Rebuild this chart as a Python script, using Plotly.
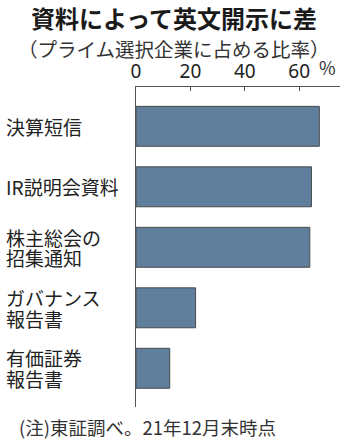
import plotly.graph_objects as go

categories = ["決算短信", "IR説明会資料", "株主総会の\n招集通知", "ガバナンス\n報告書", "有価証券\n報告書"]
values = [67.4, 64.5, 63.9, 21.9, 12.4]
tick_vals = [0, 20, 40, 60]
tick_text = ["0", "20", "40", "60"]

title = "資料によって英文開示に差"
subtitle = "（プライム選択企業に占める比率）"
note = "(注)東証調べ。21年12月末時点"
unit = "%"

W, H = 350, 442
ml, mr, mt, mb = 136, 10, 87, 35
plot_w = W - ml - mr
plot_h = H - mt - mb

jp = "Noto Sans CJK JP"
num_font = "Noto Sans, Noto Sans CJK JP"

fig = go.Figure()
fig.add_trace(go.Bar(
    x=values, y=categories, orientation="h", width=0.66,
    marker=dict(color="#5f7f9d", line=dict(color="#4a4a4a", width=1)),
    hoverinfo="skip",
))

annotations = []
for cat in categories:
    lines = cat.split("\n")
    n = len(lines)
    for i, ln in enumerate(lines):
        annotations.append(dict(
            text=ln, x=(4 - ml) / plot_w, xref="paper", y=cat, yref="y",
            xanchor="left", yanchor="middle", showarrow=False,
            yshift=-(i - (n - 1) / 2) * 20.6,
            font=dict(family=jp, size=19, color="#222222"),
        ))


def px(x, y, text, size, color, anchor="center", bold=False):
    return dict(
        text=("<b>" + text + "</b>") if bold else text,
        x=(x - ml) / plot_w, y=(H - y - mb) / plot_h,
        xref="paper", yref="paper", xanchor=anchor, yanchor="middle",
        showarrow=False, font=dict(family=jp, size=size, color=color),
    )


annotations += [
    px(174, 17.5, title, 24, "#1a1a1a", bold=True),
    px(173.5, 48, subtitle, 19.5, "#333333"),
    px(17, 427, note, 18.5, "#333333", anchor="left"),
    px(327, 67, unit, 18, "#333333"),
]

fig.update_layout(
    width=W, height=H,
    margin=dict(l=ml, r=mr, t=mt, b=mb),
    paper_bgcolor="white", plot_bgcolor="white",
    showlegend=False,
    annotations=annotations,
    xaxis=dict(
        side="top", range=[0, 75], tickvals=tick_vals, ticktext=tick_text,
        showline=True, linecolor="#555555", linewidth=1,
        ticks="inside", ticklen=4, tickcolor="#555555",
        showgrid=False, zeroline=False,
        tickfont=dict(family=num_font, size=19, color="#222222"),
    ),
    yaxis=dict(
        type="category", range=[4.64, -0.65], showticklabels=False,
        showline=True, linecolor="#555555", linewidth=1,
        showgrid=False, zeroline=False, ticks="",
    ),
)

fig.write_html("out.html")
